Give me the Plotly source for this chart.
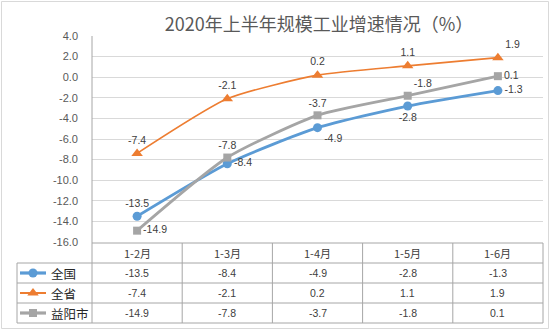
import plotly.graph_objects as go

# Data
categories = ["1-2月", "1-3月", "1-4月", "1-5月", "1-6月"]
series_names = ["全国", "全省", "益阳市"]
national = [-13.5, -8.4, -4.9, -2.8, -1.3]
province = [-7.4, -2.1, 0.2, 1.1, 1.9]
yiyang = [-14.9, -7.8, -3.7, -1.8, 0.1]
y_ticks = [4, 2, 0, -2, -4, -6, -8, -10, -12, -14, -16]

W, H = 554, 332
PL, PR, PT, PB = 92, 543, 36, 242   # plot area in pixels
ROWS = [243, 263, 283, 303, 323]    # table row boundaries
TABLE_LEFT = 17

colors = ["#5B9BD5", "#ED7D31", "#A5A5A5"]
symbols = ["circle", "triangle-up", "square"]
msizes = [9, 10, 8]
lwidths = [2.8, 1.6, 2.8]
label_pos = [
    ["top center", "middle right", "bottom right", "bottom center", "middle right"],
    ["top center", "top center", "top center", "top center", "top right"],
    ["middle right", "top center", "top center", "top right", "middle right"],
]

FONT = "Liberation Sans, Noto Sans CJK SC, sans-serif"
CJK = "Noto Sans CJK SC, Microsoft YaHei, sans-serif"
TXT = "#404040"
GRID = "#d9d9d9"
TLINE = "#a6a6a6"

fig = go.Figure()

xs = list(range(len(categories)))
for name, vals, c, s, ms, lw, pos in zip(series_names, [national, province, yiyang],
                                          colors, symbols, msizes, lwidths, label_pos):
    fig.add_trace(go.Scatter(
        x=xs, y=vals, name=name, mode="lines+markers+text",
        line=dict(color=c, width=lw, shape="spline", smoothing=0.6),
        marker=dict(symbol=s, size=ms, color=c),
        text=[f"{v:.1f}" for v in vals], textposition=pos,
        textfont=dict(family=FONT, size=10.5, color=TXT),
        xaxis="x", yaxis="y", hoverinfo="skip", showlegend=False,
        cliponaxis=False,
    ))

# Legend samples inside the data table (full-figure pixel axes)
for i, (c, s, ms, lw) in enumerate(zip(colors, symbols, msizes, lwidths)):
    yc = (ROWS[i + 1] + ROWS[i + 2]) / 2
    fig.add_trace(go.Scatter(
        x=[20, 33, 46], y=[yc, yc, yc], mode="lines",
        line=dict(color=c, width=lw + 0.4), xaxis="x2", yaxis="y2",
        hoverinfo="skip", showlegend=False,
    ))
    fig.add_trace(go.Scatter(
        x=[33], y=[yc], mode="markers",
        marker=dict(symbol=s, size=ms, color=c), xaxis="x2", yaxis="y2",
        hoverinfo="skip", showlegend=False,
    ))

shapes = []
def seg(x0, y0, x1, y1, color=TLINE, w=1):
    shapes.append(dict(type="line", xref="x2", yref="y2", x0=x0, y0=y0, x1=x1, y1=y1,
                       line=dict(color=color, width=w)))

# outer chart border
shapes.append(dict(type="rect", xref="x2", yref="y2", x0=1.5, y0=1.5, x1=548.5, y1=328.5,
                   line=dict(color=GRID, width=1)))
# plot area left edge down through the table
seg(PL, PT, PL, ROWS[-1])
# table horizontals
seg(PL, ROWS[0], PR, ROWS[0])
for r in ROWS[1:]:
    seg(TABLE_LEFT, r, PR, r)
# table verticals
seg(TABLE_LEFT, ROWS[1], TABLE_LEFT, ROWS[-1])
colw = (PR - PL) / len(categories)
for k in range(1, len(categories) + 1):
    xk = PL + k * colw
    seg(xk, ROWS[0], xk, ROWS[-1])

annotations = []
# column headers and values
for i, cat in enumerate(categories):
    annotations.append(dict(x=i, y=(ROWS[0] + ROWS[1]) / 2, xref="x", yref="y2",
                            text=cat, showarrow=False,
                            font=dict(family=CJK, size=11, color=TXT)))
for r, vals in enumerate([national, province, yiyang]):
    yc = (ROWS[r + 1] + ROWS[r + 2]) / 2
    for i, v in enumerate(vals):
        annotations.append(dict(x=i, y=yc, xref="x", yref="y2", text=f"{v:.1f}",
                                showarrow=False,
                                font=dict(family=FONT, size=10.5, color=TXT)))
    annotations.append(dict(x=49, y=yc, xref="x2", yref="y2", text=series_names[r],
                            showarrow=False, xanchor="left",
                            font=dict(family=CJK, size=12.5, color="#262626")))

fig.update_layout(
    width=W, height=H, margin=dict(l=0, r=0, t=0, b=0),
    paper_bgcolor="white", plot_bgcolor="rgba(0,0,0,0)",
    title=dict(text="2020年上半年规模工业增速情况（%）", x=319 / W, xanchor="center",
               y=1 - 25 / H, yanchor="middle", yref="container",
               font=dict(family=CJK, size=18, color="#595959")),
    xaxis=dict(domain=[PL / W, PR / W], range=[-0.5, len(categories) - 0.5],
               anchor="y", showticklabels=False, showgrid=False, zeroline=False,
               showline=False, ticks=""),
    yaxis=dict(domain=[(H - PB) / H, (H - PT) / H], range=[-16, 4], anchor="x",
               tickvals=y_ticks, ticktext=[f"{v:.1f}" for v in y_ticks],
               showgrid=True, gridcolor=GRID, gridwidth=1, zeroline=False,
               showline=False, ticks="", ticklen=0, automargin=False,
               ticklabelstandoff=13,
               tickfont=dict(family=FONT, size=11, color="#595959")),
    xaxis2=dict(domain=[0, 1], range=[0, W], anchor="y2", visible=False, fixedrange=True),
    yaxis2=dict(domain=[0, 1], range=[H, 0], anchor="x2", visible=False, fixedrange=True),
    shapes=shapes, annotations=annotations, hovermode=False,
)

fig.write_html("out.html")
